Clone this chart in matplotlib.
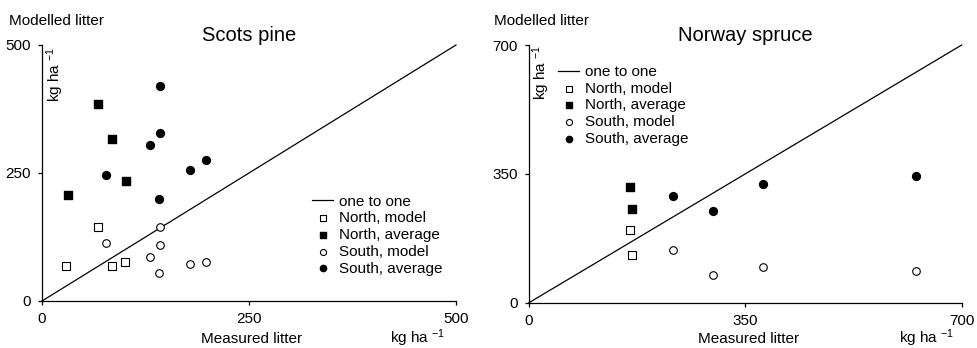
import matplotlib
matplotlib.use("Agg")
import matplotlib.pyplot as plt

plt.rcParams["font.family"] = ["Liberation Sans", "DejaVu Sans"]
plt.rcParams["mathtext.default"] = "regular"

# =========================
# Scots pine
# =========================
pine_north_model_x = [68, 29, 84, 100]
pine_north_model_y = [144, 69, 68, 76]
pine_north_avg_x = [68, 85, 101, 31]
pine_north_avg_y = [385, 317, 234, 207]
pine_south_model_x = [142, 77, 142, 131, 141, 179, 198]
pine_south_model_y = [145, 113, 109, 85, 55, 73, 77]
pine_south_avg_x = [142, 142, 131, 77, 179, 198, 141]
pine_south_avg_y = [419, 328, 305, 247, 255, 276, 199]

# =========================
# Norway spruce
# =========================
spruce_north_model_x = [164, 167]
spruce_north_model_y = [198, 129]
spruce_north_avg_x = [164, 167]
spruce_north_avg_y = [314, 255]
spruce_south_model_x = [233, 298, 379, 626]
spruce_south_model_y = [144, 75, 96, 87]
spruce_south_avg_x = [233, 298, 379, 626]
spruce_south_avg_y = [289, 249, 322, 343]

labels = ["one to one", "North, model", "North, average", "South, model", "South, average"]

fig = plt.figure(figsize=(9.78, 3.48), dpi=100)
ax1 = fig.add_axes([42 / 978, 47 / 348, 414 / 978, 256 / 348])
ax2 = fig.add_axes([529 / 978, 45.3 / 348, 432.7 / 978, 257.7 / 348])


def painel(ax, lim, titulo, nm, na, sm, sa, leg_pos):
    ax.plot([0, lim], [0, lim], color="black", lw=0.9, clip_on=False)
    ax.scatter(nm[0], nm[1], marker="s", s=34, facecolors="white",
               edgecolors="black", linewidths=0.8, clip_on=False, zorder=3)
    ax.scatter(na[0], na[1], marker="s", s=34, color="black",
               clip_on=False, zorder=3)
    ax.scatter(sm[0], sm[1], marker="o", s=30, facecolors="white",
               edgecolors="black", linewidths=0.8, clip_on=False, zorder=3)
    ax.scatter(sa[0], sa[1], marker="o", s=32, color="black",
               clip_on=False, zorder=3)
    ax.set_xlim(0, lim)
    ax.set_ylim(0, lim)
    ax.set_xticks([0, lim / 2, lim])
    ax.set_yticks([0, lim / 2, lim])
    ax.set_xticklabels([0, int(lim / 2), lim])
    ax.set_yticklabels([0, int(lim / 2), lim])
    for s in ["top", "right"]:
        ax.spines[s].set_visible(False)
    ax.spines["left"].set_linewidth(0.9)
    ax.spines["bottom"].set_linewidth(0.9)
    ax.tick_params(length=3, width=0.9, labelsize=11, pad=5)
    ax.set_title(titulo, fontsize=14.5, pad=2)
    leg = ax.legend(labels, loc="upper left", bbox_to_anchor=leg_pos,
                    bbox_transform=fig.transFigure, frameon=False,
                    fontsize=11, borderpad=0, borderaxespad=0,
                    labelspacing=0.18, handlelength=1.4, handletextpad=0.35,
                    markerscale=0.8)
    return leg


painel(ax1, 500, "Scots pine",
       (pine_north_model_x, pine_north_model_y),
       (pine_north_avg_x, pine_north_avg_y),
       (pine_south_model_x, pine_south_model_y),
       (pine_south_avg_x, pine_south_avg_y),
       (312 / 978, 1 - 194.5 / 348))
painel(ax2, 700, "Norway spruce",
       (spruce_north_model_x, spruce_north_model_y),
       (spruce_north_avg_x, spruce_north_avg_y),
       (spruce_south_model_x, spruce_south_model_y),
       (spruce_south_avg_x, spruce_south_avg_y),
       (558 / 978, 1 - 65 / 348))

# textos dos eixos
unidade = "kg ha $^{-1}$"
fig.text(9 / 978, 1 - 25 / 348, "Modelled litter", fontsize=11, va="baseline")
fig.text(494 / 978, 1 - 25 / 348, "Modelled litter", fontsize=11, va="baseline")
fig.text(55 / 978, 1 - 47 / 348, unidade, fontsize=11, rotation=90,
         ha="center", va="top")
fig.text(541 / 978, 1 - 45 / 348, unidade, fontsize=11, rotation=90,
         ha="center", va="top")
fig.text(252 / 978, 1 - 343 / 348, "Measured litter", fontsize=11,
         ha="center", va="baseline")
fig.text(390 / 978, 1 - 343 / 348, unidade, fontsize=11, va="baseline")
fig.text(749 / 978, 1 - 343 / 348, "Measured litter", fontsize=11,
         ha="center", va="baseline")
fig.text(899 / 978, 1 - 343 / 348, unidade, fontsize=11, va="baseline")

fig.savefig("out.png", dpi=100)
